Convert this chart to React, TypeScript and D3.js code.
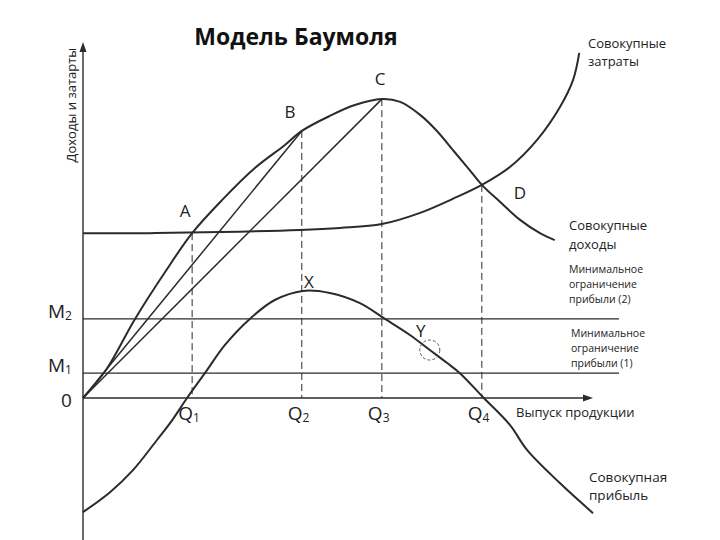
import React from 'react';
import * as d3 from 'd3';

// output quantity (x) and money (y) in arbitrary units
const revenue: [number, number][] = [
  [0, 0], [0.45, 0.8], [1.02, 2.26], [1.61, 3.6], [2.14, 4.71], [2.73, 5.66],
  [3.37, 6.57], [3.96, 7.23], [4.29, 7.63], [4.84, 8.06], [5.33, 8.37], [5.86, 8.54],
  [6.22, 8.46], [6.61, 8.09], [6.94, 7.63], [7.25, 7.09], [7.55, 6.57], [7.82, 6.09],
  [8.18, 5.6], [8.57, 5.09], [8.96, 4.71], [9.25, 4.51],
];
const costs: [number, number][] = [
  [0, 4.71], [1.31, 4.71], [2.69, 4.74], [4.25, 4.8], [5.04, 4.86], [5.86, 4.97],
  [6.61, 5.29], [7.25, 5.69], [7.82, 6.09], [8.37, 6.6], [8.9, 7.37], [9.35, 8.31],
  [9.61, 9.09], [9.73, 9.86],
];
const profit: [number, number][] = [
  [0, -3.26], [0.53, -2.69], [0.98, -2.06], [1.45, -1.2], [1.75, -0.63], [2.04, 0],
  [2.39, 0.71], [2.78, 1.51], [3.27, 2.26], [3.76, 2.8], [4.31, 3.06], [4.84, 3.0],
  [5.43, 2.71], [5.92, 2.26], [6.41, 1.8], [6.8, 1.37], [7.14, 1.0], [7.39, 0.71],
  [7.86, 0], [8.37, -0.77], [8.71, -1.49], [9.35, -2.43], [10, -3.29],
];
const pointNames = ['A', 'B', 'C', 'D'];
const pointsQ = [2.14, 4.29, 5.86, 7.82];
const pointsV = [4.71, 7.63, 8.54, 6.09];
const qLabels = ['1', '2', '3', '4'];
const constraints = [0.71, 2.26]; // M1, M2
const constraintNames = ['1', '2'];
const chordEnds = [1, 2]; // rays from 0 to B and C
const yPoint: [number, number] = [6.8, 1.37];
const xPoint: [number, number] = [4.31, 3.06];

const W = 720;
const H = 540;
const FONT = '"Open Sans", "DejaVu Sans", sans-serif';
const INK = '#2b2b2b';

export default function App() {
  const x = d3.scaleLinear().domain([0, 10]).range([83, 593]);
  const y = d3.scaleLinear().domain([0, 10]).range([398, 48]);

  const line = d3.line<[number, number]>()
    .x(d => x(d[0]))
    .y(d => y(d[1]))
    .curve(d3.curveCatmullRom.alpha(0.5));

  const yTop = y(10.17);
  const yBottom = y(-4.1);
  const xEnd = x(10);
  const hEnd = x(10.51);

  return (
    <svg width={W} height={H} style={{ position: 'absolute', left: 0, top: 0, background: '#fff' }}
      fontFamily={FONT}>
      <rect width={W} height={H} fill="#fff" />

      <text x={296} y={45} textAnchor="middle" fontSize={23} fontWeight="bold" fill="#111">
        Модель Баумоля
      </text>

      {/* axes */}
      <line x1={x(0)} x2={x(0)} y1={yBottom} y2={yTop + 6} stroke={INK} strokeWidth={1.4} />
      <path d={`M${x(0)},${yTop} L${x(0) - 3.5},${yTop + 10} L${x(0) + 3.5},${yTop + 10} Z`} fill={INK} />
      <line x1={x(0)} x2={xEnd - 6} y1={y(0)} y2={y(0)} stroke={INK} strokeWidth={1.4} />
      <path d={`M${xEnd},${y(0)} L${xEnd - 10},${y(0) - 3.5} L${xEnd - 10},${y(0) + 3.5} Z`} fill={INK} />

      <text transform={`translate(76,${yTop + 63}) rotate(-90)`} textAnchor="middle" fontSize={13} fill="#222">
        Доходы и затарты
      </text>

      {/* profit constraints */}
      {constraints.map((c, i) => (
        <g key={'m' + i}>
          <line x1={x(0)} x2={hEnd} y1={y(c)} y2={y(c)} stroke={INK} strokeWidth={1.1} />
          <text x={48} y={y(c) - 1} fontSize={19} fill="#222">
            M<tspan fontSize={12} dy={2}>{constraintNames[i]}</tspan>
          </text>
        </g>
      ))}
      <text x={61} y={y(0) + 9} fontSize={19} fill="#222">0</text>

      {/* dashed drops */}
      {pointsQ.map((q, i) => (
        <g key={'q' + i}>
          <line x1={x(q)} x2={x(q)} y1={y(pointsV[i])} y2={y(0)} stroke={INK} strokeWidth={1}
            strokeDasharray="7,4" />
          <text x={x(q) - 14} y={y(0) + 22} fontSize={19} fill="#222">
            Q<tspan fontSize={12} dy={2}>{qLabels[i]}</tspan>
          </text>
        </g>
      ))}

      {/* rays from origin */}
      {chordEnds.map(k => (
        <line key={'r' + k} x1={x(0)} y1={y(0)} x2={x(pointsQ[k])} y2={y(pointsV[k])}
          stroke={INK} strokeWidth={1.5} />
      ))}

      <path d={line(revenue) || ''} fill="none" stroke={INK} strokeWidth={2} />
      <path d={line(costs) || ''} fill="none" stroke={INK} strokeWidth={2} />
      <path d={line(profit) || ''} fill="none" stroke={INK} strokeWidth={2} />

      <circle cx={x(yPoint[0])} cy={y(yPoint[1])} r={10} fill="none" stroke="#555" strokeWidth={1}
        strokeDasharray="3,2" />

      {/* point letters */}
      <text x={185} y={217} textAnchor="middle" fontSize={17} fill="#222">{pointNames[0]}</text>
      <text x={290} y={118} textAnchor="middle" fontSize={17} fill="#222">{pointNames[1]}</text>
      <text x={380} y={85} textAnchor="middle" fontSize={17} fill="#222">{pointNames[2]}</text>
      <text x={520} y={199} textAnchor="middle" fontSize={17} fill="#222">{pointNames[3]}</text>
      <text x={x(xPoint[0]) + 6} y={288} textAnchor="middle" fontSize={17} fill="#222">X</text>
      <text x={x(yPoint[0]) - 9} y={337} textAnchor="middle" fontSize={17} fill="#222">Y</text>

      {/* curve captions */}
      <text x={588} y={48} fontSize={13} fill="#222">
        <tspan x={588}>Совокупные</tspan>
        <tspan x={588} dy={18}>затраты</tspan>
      </text>
      <text x={569} y={230} fontSize={13} fill="#222">
        <tspan x={569}>Совокупные</tspan>
        <tspan x={569} dy={19}>доходы</tspan>
      </text>
      <text x={569} y={273} fontSize={10.5} fill="#222">
        <tspan x={569}>Минимальное</tspan>
        <tspan x={569} dy={15}>ограничение</tspan>
        <tspan x={569} dy={15}>прибыли (2)</tspan>
      </text>
      <text x={571} y={337} fontSize={10.5} fill="#222">
        <tspan x={571}>Минимальное</tspan>
        <tspan x={571} dy={15}>ограничение</tspan>
        <tspan x={571} dy={15}>прибыли (1)</tspan>
      </text>
      <text x={516} y={417} fontSize={13} fill="#222">Выпуск продукции</text>
      <text x={589} y={482} fontSize={13.5} fill="#222">
        <tspan x={589}>Совокупная</tspan>
        <tspan x={589} dy={18}>прибыль</tspan>
      </text>
    </svg>
  );
}
